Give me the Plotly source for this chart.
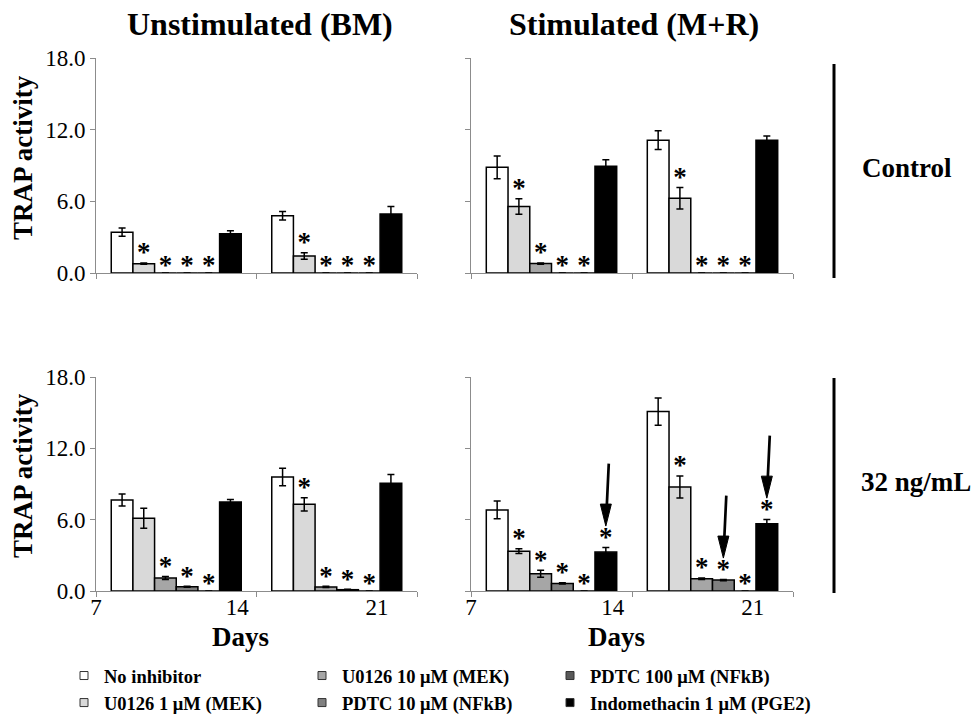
import plotly.graph_objects as go

# ---------------- data ----------------
day_ticks = ["7", "14", "21"]
series_names = ["No inhibitor", "U0126 1 μM (MEK)", "U0126 10 μM (MEK)",
                "PDTC 10 μM (NFkB)", "PDTC 100 μM (NFkB)", "Indomethacin 1 μM (PGE2)"]
series_colors = ["#ffffff", "#d9d9d9", "#a6a6a6", "#808080", "#595959", "#000000"]
legend_rank = [1, 4, 2, 5, 3, 6]

# rows: day 14, day 21 ; columns: series
bm_ctrl_mean = [[3.42, 0.78, 0, 0, 0, 3.28], [4.79, 1.43, 0, 0, 0, 4.93]]
bm_ctrl_sem = [[0.35, 0.05, 0, 0, 0, 0.25], [0.35, 0.27, 0, 0, 0, 0.64]]
bm_ctrl_sig = [[0, 1, 1, 1, 1, 0], [0, 1, 1, 1, 1, 0]]

mr_ctrl_mean = [[8.85, 5.56, 0.79, 0, 0, 8.93], [11.12, 6.26, 0, 0, 0, 11.12]]
mr_ctrl_sem = [[0.95, 0.65, 0.05, 0, 0, 0.55], [0.78, 0.90, 0, 0, 0, 0.34]]
mr_ctrl_sig = [[0, 1, 1, 1, 1, 0], [0, 1, 1, 1, 1, 0]]

bm_32_mean = [[7.65, 6.11, 1.09, 0.36, 0, 7.49], [9.59, 7.29, 0.34, 0.11, 0, 9.06]]
bm_32_sem = [[0.50, 0.84, 0.12, 0.04, 0, 0.20], [0.73, 0.56, 0.05, 0.03, 0, 0.73]]
bm_32_sig = [[0, 0, 1, 1, 1, 0], [0, 1, 1, 1, 1, 0]]

mr_32_mean = [[6.82, 3.35, 1.45, 0.64, 0, 3.27], [15.09, 8.75, 1.03, 0.92, 0, 5.65]]
mr_32_sem = [[0.75, 0.20, 0.30, 0.06, 0, 0.39], [1.15, 0.93, 0.06, 0.05, 0, 0.36]]
mr_32_sig = [[0, 1, 1, 1, 1, 1], [0, 1, 1, 1, 1, 1]]
mr_32_arrows = [(0, 5), (1, 3), (1, 5)]  # (day index, series index)

y_ticks = [0, 6, 12, 18]
y_ticktext = ["0.0", "6.0", "12.0", "18.0"]

# ---------------- layout helpers ----------------
W, H = 971, 716
FONT = "Liberation Serif, Times New Roman, Times, DejaVu Serif, serif"
group_x = [0.5, 1.5]
BARGAP = 0.19
nser = len(series_names)
bw = (1 - BARGAP) / nser


def px_x(p):
    return p / W


def px_y(p):
    return 1 - p / H


XL = [px_x(96), px_x(417)]
XR = [px_x(471), px_x(793)]
YT = [px_y(273), px_y(58)]
YB = [px_y(591), px_y(377)]

panels = [
    ("x", "y", bm_ctrl_mean, bm_ctrl_sem, bm_ctrl_sig),
    ("x2", "y2", mr_ctrl_mean, mr_ctrl_sem, mr_ctrl_sig),
    ("x3", "y3", bm_32_mean, bm_32_sem, bm_32_sig),
    ("x4", "y4", mr_32_mean, mr_32_sem, mr_32_sig),
]

fig = go.Figure()

for xa, ya, mean, sem, sig in panels:
    for s in range(nser):
        fig.add_trace(go.Bar(
            x=group_x, y=[mean[d][s] for d in range(2)],
            error_y=dict(type="data", array=[sem[d][s] for d in range(2)],
                         color="black", thickness=1.5, width=3.5),
            marker=dict(color=series_colors[s], line=dict(color="black", width=1.5)),
            name=series_names[s], showlegend=False, xaxis=xa, yaxis=ya,
            hoverinfo="skip"))
    ax_x, ax_y = [], []
    for d in range(2):
        for s in range(nser):
            if sig[d][s]:
                top = mean[d][s] + sem[d][s]
                ax_x.append(group_x[d] - (1 - BARGAP) / 2 + (s + 0.5) * bw)
                ax_y.append(top + (0.7 if mean[d][s] > 0 else 0.5))
    fig.add_trace(go.Scatter(
        x=ax_x, y=ax_y, mode="text", text=["*"] * len(ax_x),
        textposition="middle center",
        textfont=dict(family=FONT, size=27, color="black", weight="bold"),
        showlegend=False, xaxis=xa, yaxis=ya, hoverinfo="skip"))

# legend entries (three columns, two rows)
for s in range(nser):
    col = [0, 0, 1, 1, 2, 2][s]
    fig.add_trace(go.Scatter(
        x=[None], y=[None], mode="markers", name=series_names[s],
        marker=dict(symbol="square", size=8, color=series_colors[s],
                    line=dict(color="#333333", width=1)),
        legend=["legend", "legend2", "legend3"][col], legendrank=legend_rank[s],
        xaxis="x", yaxis="y"))

axis_common = dict(range=[0, 2], showgrid=False, zeroline=False, showline=True,
                   linecolor="#8c8c8c", linewidth=1, ticks="outside", ticklen=5,
                   tickcolor="#8c8c8c", tickvals=[0, 1, 2], showticklabels=False,
                   fixedrange=True, automargin=False)
yaxis_common = dict(range=[0, 18], showgrid=False, zeroline=False, showline=True,
                    linecolor="#8c8c8c", linewidth=1, ticks="outside", ticklen=5,
                    tickcolor="#8c8c8c", tickvals=y_ticks, ticktext=y_ticktext,
                    tickfont=dict(family=FONT, size=23, color="black"),
                    fixedrange=True, automargin=False)
label_axis = dict(range=[0, 2], showgrid=False, zeroline=False, showline=False,
                  ticks="", tickvals=[0, 0.88, 1.75], ticktext=day_ticks,
                  tickfont=dict(family=FONT, size=23, color="black"), fixedrange=True,
                  automargin=False)

fig.update_layout(
    width=W, height=H, margin=dict(l=0, r=0, t=0, b=0, autoexpand=False),
    paper_bgcolor="white", plot_bgcolor="white",
    font=dict(family=FONT, color="black"),
    barmode="group", bargap=BARGAP, bargroupgap=0,
    showlegend=True,
    xaxis=dict(domain=XL, anchor="y", **axis_common),
    xaxis2=dict(domain=XR, anchor="y2", **axis_common),
    xaxis3=dict(domain=XL, anchor="y3", **axis_common),
    xaxis4=dict(domain=XR, anchor="y4", **axis_common),
    xaxis5=dict(overlaying="x3", anchor="y3", side="bottom", **label_axis),
    xaxis6=dict(overlaying="x4", anchor="y4", side="bottom", **label_axis),
    yaxis=dict(domain=YT, anchor="x", showticklabels=True, **yaxis_common),
    yaxis2=dict(domain=YT, anchor="x2", showticklabels=False, **yaxis_common),
    yaxis3=dict(domain=YB, anchor="x3", showticklabels=True, **yaxis_common),
    yaxis4=dict(domain=YB, anchor="x4", showticklabels=False, **yaxis_common),
)
# attach invisible traces to label axes so they render
for xa, ya in (("x5", "y3"), ("x6", "y4")):
    fig.add_trace(go.Scatter(x=[None], y=[None], xaxis=xa, yaxis=ya,
                             showlegend=False, hoverinfo="skip"))

leg_font = dict(family=FONT, size=18.5, color="black", weight="bold")
for name, lx in (("legend", 64), ("legend2", 302), ("legend3", 550)):
    fig.update_layout({name: dict(x=px_x(lx), y=px_y(657), xanchor="left", yanchor="top",
                                  orientation="v", bgcolor="rgba(0,0,0,0)",
                                  font=leg_font, itemwidth=30, tracegroupgap=0)})

ann = []
title_font = dict(family=FONT, size=32, color="black", weight="bold")
ann.append(dict(text="Unstimulated (BM)", x=px_x(260), y=px_y(24), xref="paper", yref="paper",
                showarrow=False, font=title_font, xanchor="center", yanchor="middle"))
ann.append(dict(text="Stimulated (M+R)", x=px_x(634), y=px_y(24), xref="paper", yref="paper",
                showarrow=False, font=title_font, xanchor="center", yanchor="middle"))
lab_font = dict(family=FONT, size=27, color="black", weight="bold")
for yc in (158, 476):
    ann.append(dict(text="TRAP activity", x=px_x(23), y=px_y(yc), xref="paper", yref="paper",
                    showarrow=False, font=lab_font, textangle=-90,
                    xanchor="center", yanchor="middle"))
for xc in (240, 616):
    ann.append(dict(text="Days", x=px_x(xc), y=px_y(637), xref="paper", yref="paper",
                    showarrow=False, font=lab_font, xanchor="center", yanchor="middle"))
side_font = dict(family=FONT, size=27, color="black", weight="bold")
ann.append(dict(text="Control", x=px_x(860), y=px_y(168), xref="paper", yref="paper",
                showarrow=False, font=side_font, xanchor="left", yanchor="middle"))
ann.append(dict(text="32 ng/mL", x=px_x(859), y=px_y(482), xref="paper", yref="paper",
                showarrow=False, font=side_font, xanchor="left", yanchor="middle"))

shapes = [
    dict(type="line", xref="paper", yref="paper", x0=px_x(834), x1=px_x(834),
         y0=px_y(64), y1=px_y(278), line=dict(color="black", width=3)),
    dict(type="line", xref="paper", yref="paper", x0=px_x(834), x1=px_x(834),
         y0=px_y(378), y1=px_y(593), line=dict(color="black", width=3)),
]

# arrows in the stimulated 32 ng/mL panel, pointing at marked bars
for d, s in mr_32_arrows:
    bx = group_x[d] - (1 - BARGAP) / 2 + (s + 0.5) * bw
    top = mr_32_mean[d][s] + mr_32_sem[d][s]
    tip = top + (0.7 if mr_32_mean[d][s] > 0 else 0.5) + 1.1
    ann.append(dict(x=bx, y=tip, xref="x4", yref="y4", text="", showarrow=True,
                    arrowhead=0, arrowwidth=2.7, arrowcolor="black",
                    ax=3, ay=-64, standoff=12))
    shapes.append(dict(type="path", xref="x4", yref="y4", xsizemode="pixel",
                       ysizemode="pixel", xanchor=bx, yanchor=tip,
                       path="M-5.5,22 L5.5,22 L0,0 Z",
                       fillcolor="black", line=dict(color="black", width=1)))

fig.update_layout(annotations=ann, shapes=shapes)

# the page's default body margin would shift the 971x716 figure; remove it
fig.write_html("out.html", config={"displayModeBar": False},
               post_script="document.body.style.margin='0';")
